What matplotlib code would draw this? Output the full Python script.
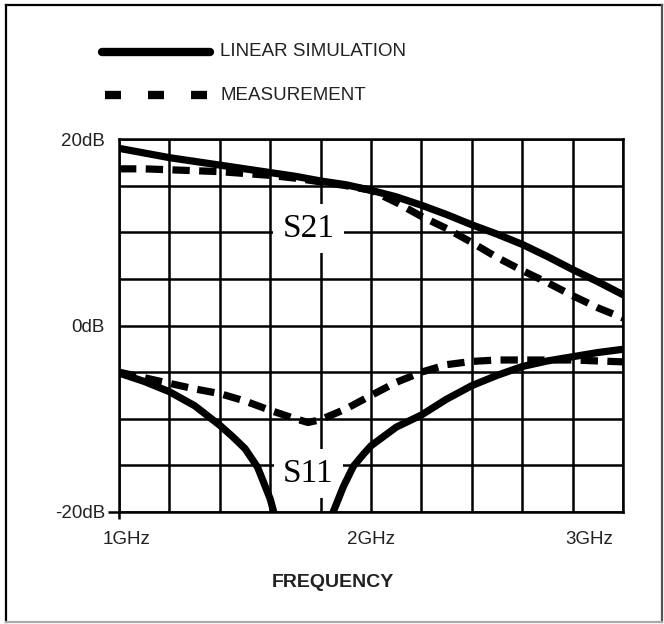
import numpy as np
import matplotlib.pyplot as plt
from matplotlib.lines import Line2D
from matplotlib.transforms import ScaledTranslation

plt.rcParams['font.family'] = ['Liberation Sans', 'DejaVu Sans']

# S21, both curves sampled every 0.1 GHz
freq = [1.0, 1.1, 1.2, 1.3, 1.4, 1.5, 1.6, 1.7, 1.8, 1.9, 2.0,
        2.1, 2.2, 2.3, 2.4, 2.5, 2.6, 2.7, 2.8, 2.9, 3.0]
s21_sim = [19.0, 18.5, 18.0, 17.6, 17.2, 16.8, 16.4, 16.0, 15.5, 15.1, 14.5,
           13.8, 12.9, 11.9, 10.8, 9.8, 8.7, 7.4, 6.0, 4.7, 3.3]
s21_meas = [16.8, 16.8, 16.7, 16.6, 16.5, 16.3, 16.1, 15.8, 15.4, 15.0, 14.5,
            13.2, 11.7, 10.4, 8.9, 7.3, 5.9, 4.6, 3.2, 1.9, 0.8]

# S11 simulation has a deep null, drawn as two branches
s11_sim_f_lo = [1.0, 1.1, 1.2, 1.3, 1.4, 1.45, 1.5, 1.55, 1.6, 1.62]
s11_sim_lo = [-5.1, -6.0, -7.1, -8.6, -10.7, -11.9, -13.2, -15.2, -18.6, -20.6]
s11_sim_f_hi = [1.84, 1.85, 1.89, 1.93, 1.97, 2.0, 2.1, 2.2, 2.3, 2.4,
                2.5, 2.6, 2.7, 2.8, 2.9, 3.0]
s11_sim_hi = [-21.0, -20.0, -17.3, -15.1, -13.8, -12.9, -10.9, -9.6, -7.9, -6.45,
              -5.35, -4.4, -3.8, -3.35, -2.9, -2.55]

s11_meas_f = [1.0, 1.1, 1.2, 1.3, 1.4, 1.5, 1.6, 1.7, 1.75, 1.8, 1.9, 2.0,
              2.1, 2.2, 2.3, 2.4, 2.5, 2.6, 2.7, 2.8, 2.9, 3.0]
s11_meas = [-5.0, -5.6, -6.2, -6.8, -7.3, -8.1, -9.1, -10.0, -10.4, -10.1, -8.95, -7.5,
            -6.1, -5.0, -4.2, -3.85, -3.7, -3.7, -3.7, -3.7, -3.8, -3.9]

freq_ticks = [1, 2, 3]
freq_labels = ['1GHz', '2GHz', '3GHz']
db_ticks = [-20, 0, 20]
db_labels = ['-20dB', '0dB', '20dB']

W, H = 664, 624
fig = plt.figure(figsize=(W / 100, H / 100), dpi=100)
ax = fig.add_axes([119 / W, 112 / H, 504 / W, 373 / H])
ax.set_xlim(1, 3)
ax.set_ylim(-20, 20)

grid_lw = 1.8
ax.set_xticks(np.arange(1, 3.01, 0.2), minor=True)
ax.set_yticks(np.arange(-20, 21, 5), minor=True)
ax.set_xticks(freq_ticks, freq_labels)
ax.set_yticks(db_ticks, db_labels)
ax.set_axisbelow(True)
ax.grid(which='both', color='black', lw=grid_lw)
for s in ax.spines.values():
    s.set_linewidth(grid_lw)
ax.tick_params(which='both', length=0, width=grid_lw, direction='out',
               labelsize=13.5, labelcolor='#222')
ax.tick_params(axis='x', pad=14)
ax.tick_params(axis='y', pad=10)
# the only tick marks are at the bottom-left corner
ax.yaxis.get_major_ticks()[0].tick1line.set_markersize(8)
ax.xaxis.get_major_ticks()[0].tick1line.set_markersize(5)

xl = ax.get_xticklabels()
xl[0].set_transform(xl[0].get_transform() + ScaledTranslation(0.08, 0, fig.dpi_scale_trans))
xl[-1].set_transform(xl[-1].get_transform() + ScaledTranslation(-0.34, 0, fig.dpi_scale_trans))

lw = 5.2
style = dict(color='black', lw=lw, zorder=3, solid_joinstyle='round')
dashed = dict(color='black', lw=lw, zorder=3, dashes=(2.4, 1.3),
              dash_capstyle='butt', dash_joinstyle='round')
ax.plot(freq, s21_sim, **style)
ax.plot(freq, s21_meas, **dashed)
ax.plot(s11_sim_f_lo, s11_sim_lo, **style)
ax.plot(s11_sim_f_hi, s11_sim_hi, **style)
ax.plot(s11_meas_f, s11_meas, **dashed)

box = dict(boxstyle='square,pad=0.28', facecolor='white', edgecolor='none')
ax.text(1.752, 9.5, 'S21', family='Liberation Serif', fontsize=24,
        ha='center', va='baseline', bbox=box, zorder=2)
ax.text(1.752, -16.8, 'S11', family='Liberation Serif', fontsize=24,
        ha='center', va='baseline', bbox=box, zorder=2)

ax.set_xlabel('FREQUENCY', fontsize=14, fontweight='bold', color='#222')
ax.xaxis.set_label_coords(0.425, -0.166)

# legend drawn by hand, like the original sheet
fig.add_artist(Line2D([102 / W, 210 / W], [1 - 52 / H, 1 - 52 / H], color='black',
                      lw=6, solid_capstyle='round', transform=fig.transFigure))
fig.add_artist(Line2D([105 / W, 208 / W], [1 - 95 / H, 1 - 95 / H], color='black',
                      lw=6, dashes=(1.92, 3.24), dash_capstyle='butt',
                      transform=fig.transFigure))
fig.text(220 / W, 1 - 51 / H, 'LINEAR SIMULATION', fontsize=13.5, color='#222', va='center')
fig.text(220 / W, 1 - 95 / H, 'MEASUREMENT', fontsize=13.5, color='#222', va='center')

# page frame
l, r, t, b = 6 / W, 662 / W, 1 - 5 / H, 1 - 622 / H
for xs, ys, c in [([l, l], [b, t], 'black'), ([l, r], [t, t], 'black'),
                  ([r, r], [b, t], '#555'), ([l, r], [b, b], '#aaa')]:
    fig.add_artist(Line2D(xs, ys, color=c, lw=1.6, transform=fig.transFigure))

fig.savefig('out.png', dpi=100)
